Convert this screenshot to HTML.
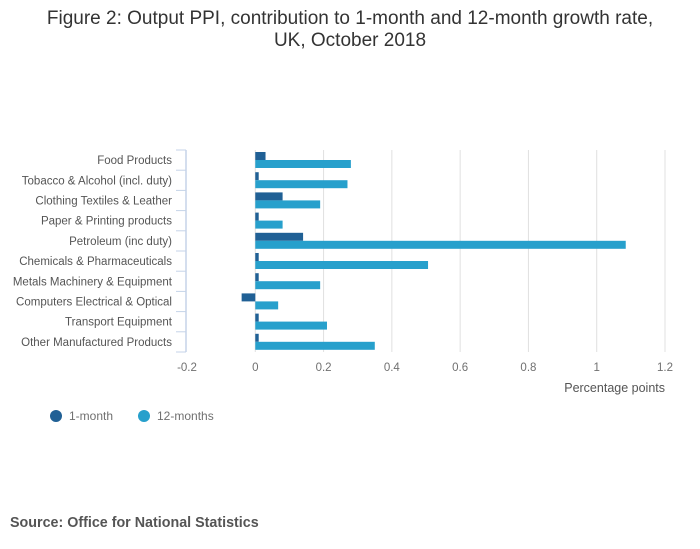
<!DOCTYPE html>
<html><head><meta charset="utf-8">
<style>
body{margin:0;background:#fff;font-family:"Liberation Sans",sans-serif;}
svg{display:block}
</style></head>
<body>
<svg id="chart" width="700" height="549" xmlns="http://www.w3.org/2000/svg">
<text x="350" y="24" text-anchor="middle" font-size="19" fill="#333">Figure 2: Output PPI, contribution to 1-month and 12-month growth rate,</text>
<text x="350" y="46" text-anchor="middle" font-size="19" fill="#333">UK, October 2018</text>
<g id="grid"></g>
<g id="bars"></g>
<g id="yaxis"></g>
<g id="xticks"></g>
<text x="665" y="392" text-anchor="end" font-size="12.5" fill="#555">Percentage points</text>
<g>
<circle cx="56" cy="416" r="6" fill="#206095"/>
<text x="69" y="420" font-size="12" fill="#707070">1-month</text>
</g>
<g>
<circle cx="144" cy="416" r="6" fill="#27a0cc"/>
<text x="157" y="420" font-size="12" fill="#707070">12-months</text>
</g>
<text x="10" y="527" font-size="14.3" font-weight="bold" fill="#555">Source: Office for National Statistics</text>
</svg>
<script>
const categories=["Food Products","Tobacco & Alcohol (incl. duty)","Clothing Textiles & Leather","Paper & Printing products","Petroleum (inc duty)","Chemicals & Pharmaceuticals","Metals Machinery & Equipment","Computers Electrical & Optical","Transport Equipment","Other Manufactured Products"];
const oneMonth=[0.03,0.01,0.08,0.01,0.14,0.01,0.01,-0.04,0.01,0.01];
const twelveMonths=[0.28,0.27,0.19,0.08,1.085,0.506,0.19,0.067,0.21,0.35];
const xTicks=[-0.2,0,0.2,0.4,0.6,0.8,1,1.2];
(function(){
const NS="http://www.w3.org/2000/svg";
const x0=187,x1=665,vmin=-0.2,vmax=1.2,pTop=150,pBottom=352;
const band=(pBottom-pTop)/categories.length;
function xs(v){return x0+(v-vmin)/(vmax-vmin)*(x1-x0);}
function ys(i){return pTop+i*band;}
function mk(tag,attrs,parent){const e=document.createElementNS(NS,tag);for(const k in attrs)e.setAttribute(k,attrs[k]);parent.appendChild(e);return e;}
const grid=document.getElementById('grid'),bars=document.getElementById('bars'),ya=document.getElementById('yaxis'),xt=document.getElementById('xticks');
xTicks.forEach(t=>{
  const X=xs(t);
  if(t!==vmin){const l=mk('line',{x1:X,x2:X,y1:pTop,y2:pBottom,stroke:'#e0e0e0','stroke-width':1},grid);
  
  }
  const tx=mk('text',{x:X,y:371,'text-anchor':'middle','font-size':11.5,fill:'#707070'},xt);
  tx.textContent=String(t);
  
  
});
const ax=mk('line',{x1:186,x2:186,y1:pTop,y2:pBottom,stroke:'#c5d3e8','stroke-width':1.5},ya);


for(let i=0;i<=categories.length;i++){
  const tk=mk('line',{x1:176,x2:186,y1:ys(i),y2:ys(i),stroke:'#c5d3e8','stroke-width':1},ya);
  
  
}
categories.forEach((c,i)=>{
  const t=mk('text',{x:172,y:ys(i)+band/2+4,'text-anchor':'end','font-size':11.5,fill:'#555'},ya);
  t.textContent=c;
  
  
  const a=oneMonth[i],b=twelveMonths[i];
  const r1=mk('rect',{x:Math.min(xs(0),xs(a)),y:ys(i)+2,width:Math.abs(xs(a)-xs(0)),height:8,fill:'#206095'},bars);
  
  
  const r2=mk('rect',{x:Math.min(xs(0),xs(b)),y:ys(i)+10,width:Math.abs(xs(b)-xs(0)),height:8,fill:'#27a0cc'},bars);
  
  
});
})();
</script>
</body></html>
